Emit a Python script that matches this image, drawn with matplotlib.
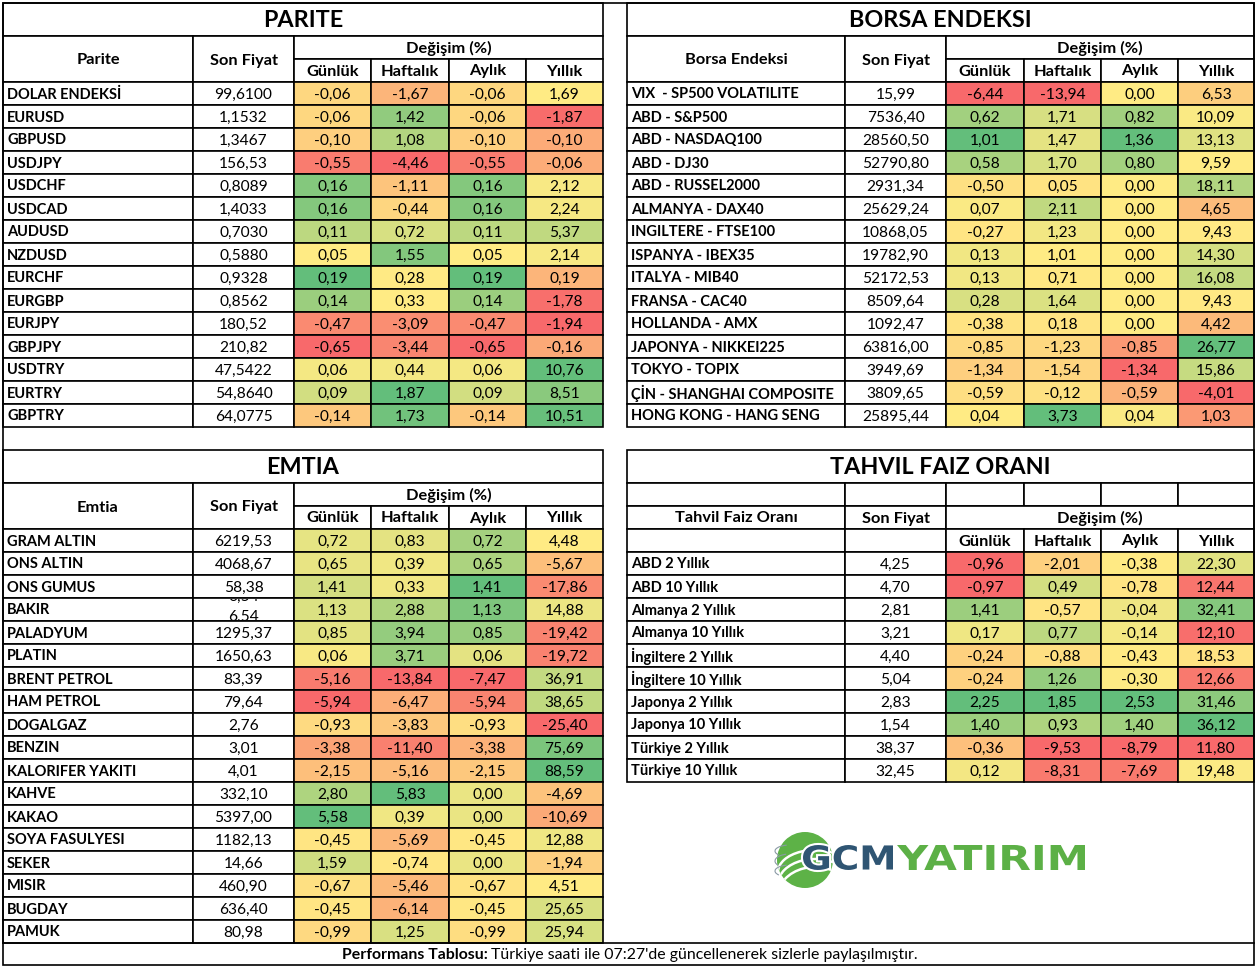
import numpy as np
import matplotlib
matplotlib.use("Agg")
import matplotlib.pyplot as plt
from matplotlib.patches import Rectangle, Circle, PathPatch, Arc
from matplotlib.textpath import TextPath
from matplotlib.font_manager import FontProperties
from matplotlib.transforms import Affine2D, Bbox, TransformedBbox
import matplotlib.patheffects as pe

plt.rcParams['font.family'] = ['Lato', 'DejaVu Sans']

# ---------------- data ----------------
period_labels = ["Günlük", "Haftalık", "Aylık", "Yıllık"]

parite_names = ["DOLAR ENDEKSİ", "EURUSD", "GBPUSD", "USDJPY", "USDCHF", "USDCAD", "AUDUSD",
                "NZDUSD", "EURCHF", "EURGBP", "EURJPY", "GBPJPY", "USDTRY", "EURTRY", "GBPTRY"]
parite_price = ["99,6100", "1,1532", "1,3467", "156,53", "0,8089", "1,4033", "0,7030", "0,5880",
                "0,9328", "0,8562", "180,52", "210,82", "47,5422", "54,8640", "64,0775"]
parite_gun = [-0.06, -0.06, -0.10, -0.55, 0.16, 0.16, 0.11, 0.05, 0.19, 0.14, -0.47, -0.65, 0.06, 0.09, -0.14]
parite_haf = [-1.67, 1.42, 1.08, -4.46, -1.11, -0.44, 0.72, 1.55, 0.28, 0.33, -3.09, -3.44, 0.44, 1.87, 1.73]
parite_ay = [-0.06, -0.06, -0.10, -0.55, 0.16, 0.16, 0.11, 0.05, 0.19, 0.14, -0.47, -0.65, 0.06, 0.09, -0.14]
parite_yil = [1.69, -1.87, -0.10, -0.06, 2.12, 2.24, 5.37, 2.14, 0.19, -1.78, -1.94, -0.16, 10.76, 8.51, 10.51]

borsa_names = ["VIX  - SP500 VOLATILITE", "ABD - S&P500", "ABD - NASDAQ100", "ABD - DJ30",
               "ABD - RUSSEL2000", "ALMANYA - DAX40", "INGILTERE - FTSE100", "ISPANYA - IBEX35",
               "ITALYA - MIB40", "FRANSA - CAC40", "HOLLANDA - AMX", "JAPONYA - NIKKEI225",
               "TOKYO - TOPIX", "ÇİN - SHANGHAI COMPOSITE", "HONG KONG - HANG SENG"]
borsa_price = ["15,99", "7536,40", "28560,50", "52790,80", "2931,34", "25629,24", "10868,05", "19782,90",
               "52172,53", "8509,64", "1092,47", "63816,00", "3949,69", "3809,65", "25895,44"]
borsa_gun = [-6.44, 0.62, 1.01, 0.58, -0.50, 0.07, -0.27, 0.13, 0.13, 0.28, -0.38, -0.85, -1.34, -0.59, 0.04]
borsa_haf = [-13.94, 1.71, 1.47, 1.70, 0.05, 2.11, 1.23, 1.01, 0.71, 1.64, 0.18, -1.23, -1.54, -0.12, 3.73]
borsa_ay = [0.00, 0.82, 1.36, 0.80, 0.00, 0.00, 0.00, 0.00, 0.00, 0.00, 0.00, -0.85, -1.34, -0.59, 0.04]
borsa_yil = [6.53, 10.09, 13.13, 9.59, 18.11, 4.65, 9.43, 14.30, 16.08, 9.43, 4.42, 26.77, 15.86, -4.01, 1.03]

emtia_names = ["GRAM ALTIN", "ONS ALTIN", "ONS GUMUS", "BAKIR", "PALADYUM", "PLATIN", "BRENT PETROL",
               "HAM PETROL", "DOGALGAZ", "BENZIN", "KALORIFER YAKITI", "KAHVE", "KAKAO",
               "SOYA FASULYESI", "SEKER", "MISIR", "BUGDAY", "PAMUK"]
emtia_price = ["6219,53", "4068,67", "58,38", "6,54", "1295,37", "1650,63", "83,39", "79,64", "2,76",
               "3,01", "4,01", "332,10", "5397,00", "1182,13", "14,66", "460,90", "636,40", "80,98"]
emtia_gun = [0.72, 0.65, 1.41, 1.13, 0.85, 0.06, -5.16, -5.94, -0.93, -3.38, -2.15, 2.80, 5.58,
             -0.45, 1.59, -0.67, -0.45, -0.99]
emtia_haf = [0.83, 0.39, 0.33, 2.88, 3.94, 3.71, -13.84, -6.47, -3.83, -11.40, -5.16, 5.83, 0.39,
             -5.69, -0.74, -5.46, -6.14, 1.25]
emtia_ay = [0.72, 0.65, 1.41, 1.13, 0.85, 0.06, -7.47, -5.94, -0.93, -3.38, -2.15, 0.00, 0.00,
            -0.45, 0.00, -0.67, -0.45, -0.99]
emtia_yil = [4.48, -5.67, -17.86, 14.88, -19.42, -19.72, 36.91, 38.65, -25.40, 75.69, 88.59, -4.69,
             -10.69, 12.88, -1.94, 4.51, 25.65, 25.94]

tahvil_names = ["ABD 2 Yıllık", "ABD 10 Yıllık", "Almanya 2 Yıllık", "Almanya 10 Yıllık",
                "İngiltere 2 Yıllık", "İngiltere 10 Yıllık", "Japonya 2 Yıllık", "Japonya 10 Yıllık",
                "Türkiye 2 Yıllık", "Türkiye 10 Yıllık"]
tahvil_price = ["4,25", "4,70", "2,81", "3,21", "4,40", "5,04", "2,83", "1,54", "38,37", "32,45"]
tahvil_gun = [-0.96, -0.97, 1.41, 0.17, -0.24, -0.24, 2.25, 1.40, -0.36, 0.12]
tahvil_haf = [-2.01, 0.49, -0.57, 0.77, -0.88, 1.26, 1.85, 0.93, -9.53, -8.31]
tahvil_ay = [-0.38, -0.78, -0.04, -0.14, -0.43, -0.30, 2.53, 1.40, -8.79, -7.69]
tahvil_yil = [22.30, 12.44, 32.41, 12.10, 18.53, 12.66, 31.46, 36.12, 11.80, 19.48]

# ---------------- layout ----------------
W, H = 1257, 966
LEFT_COLS = [3, 193, 294, 371, 449, 526, 603]
RIGHT_COLS = [627, 845, 946, 1024, 1101, 1178, 1254]
RH = 23
NAME_FS = 10.5   # row labels
NUM_FS = 11.2    # numbers
HEAD_FS = 11.8   # column headers
TITLE_FS = 16.8
FOOT_FS = 11.4
LW = 1.2

RED = np.array([248, 105, 107]) / 255
YEL = np.array([255, 235, 132]) / 255
GRN = np.array([99, 190, 123]) / 255


def scale_colors(vals):
    # excel style 3 colour scale: min red, 50th percentile yellow, max green
    v = np.asarray(vals, float)
    lo, mid, hi = v.min(), np.percentile(v, 50), v.max()
    out = []
    for x in v:
        if x <= mid:
            t = 0.0 if mid == lo else (x - lo) / (mid - lo)
            out.append(RED + (YEL - RED) * t)
        else:
            t = (x - mid) / (hi - mid)
            out.append(YEL + (GRN - YEL) * t)
    return out


def fmt(v):
    return f"{v:.2f}".replace(".", ",")


fig = plt.figure(figsize=(W / 100, H / 100), dpi=100)
ax = fig.add_axes([0, 0, 1, 1])
ax.set_xlim(0, W)
ax.set_ylim(H, 0)
ax.axis('off')


def cell(x0, x1, y0, y1, fc='white', text=None, ha='center', bold=False, size=NUM_FS):
    ax.add_patch(Rectangle((x0, y0), x1 - x0, y1 - y0, facecolor=fc, edgecolor='black', lw=LW))
    if text:
        tx = (x0 + x1) / 2 if ha == 'center' else x0 + 4
        ty = int((y0 + y1) / 2) + 1.5   # snap so every row sits the same way on the pixel grid
        ax.text(tx, ty, text, ha=ha, va='center', fontsize=size,
                fontweight='bold' if bold else 'normal')


def data_rows(cols, y0, names, prices, series):
    colours = [scale_colors(s) for s in series]
    for i, name in enumerate(names):
        ya, yb = y0 + i * RH, y0 + (i + 1) * RH
        cell(cols[0], cols[1], ya, yb, text=name, ha='left', bold=True, size=NAME_FS)
        cell(cols[1], cols[2], ya, yb, text=prices[i])
        for j, s in enumerate(series):
            cell(cols[j + 2], cols[j + 3], ya, yb, fc=colours[j][i], text=fmt(s[i]))


def std_table(cols, top, title, head, names, prices, series):
    cell(cols[0], cols[6], top, top + 33, text=title, bold=True, size=TITLE_FS)
    h0 = top + 33
    cell(cols[0], cols[1], h0, h0 + 2 * RH, text=head, bold=True, size=HEAD_FS)
    cell(cols[1], cols[2], h0, h0 + 2 * RH, text="Son Fiyat", bold=True, size=HEAD_FS)
    cell(cols[2], cols[6], h0, h0 + RH, text="Değişim (%)", bold=True, size=HEAD_FS)
    for j, lab in enumerate(period_labels):
        cell(cols[j + 2], cols[j + 3], h0 + RH, h0 + 2 * RH, text=lab, bold=True, size=HEAD_FS)
    data_rows(cols, h0 + 2 * RH, names, prices, series)


std_table(LEFT_COLS, 3, "PARITE", "Parite", parite_names, parite_price,
          [parite_gun, parite_haf, parite_ay, parite_yil])
std_table(RIGHT_COLS, 3, "BORSA ENDEKSI", "Borsa Endeksi", borsa_names, borsa_price,
          [borsa_gun, borsa_haf, borsa_ay, borsa_yil])
std_table(LEFT_COLS, 450, "EMTIA", "Emtia", emtia_names, emtia_price,
          [emtia_gun, emtia_haf, emtia_ay, emtia_yil])

# tahvil table has an extra blank row and a split header
c = RIGHT_COLS
top = 450
cell(c[0], c[6], top, top + 33, text="TAHVIL FAIZ ORANI", bold=True, size=TITLE_FS)
y = top + 33
for j in range(6):
    cell(c[j], c[j + 1], y, y + RH)
y += RH
cell(c[0], c[1], y, y + RH, text="Tahvil Faiz Oranı", bold=True, size=HEAD_FS)
cell(c[1], c[2], y, y + RH, text="Son Fiyat", bold=True, size=HEAD_FS)
cell(c[2], c[6], y, y + RH, text="Değişim (%)", bold=True, size=HEAD_FS)
y += RH
cell(c[0], c[1], y, y + RH)
cell(c[1], c[2], y, y + RH)
for j, lab in enumerate(period_labels):
    cell(c[j + 2], c[j + 3], y, y + RH, text=lab, bold=True, size=HEAD_FS)
y += RH
data_rows(c, y, tahvil_names, tahvil_price, [tahvil_gun, tahvil_haf, tahvil_ay, tahvil_yil])

# the overflowing "6,54" of BAKIR: drawn twice, shifted, and cut by the cell
bak = emtia_names.index("BAKIR")
by0 = 450 + 33 + 2 * RH + bak * RH
ax.add_patch(Rectangle((LEFT_COLS[1] + 1, by0 + 1), LEFT_COLS[2] - LEFT_COLS[1] - 2, RH - 2,
                       facecolor='white', edgecolor='none', zorder=3))
clip_box = TransformedBbox(Bbox([[LEFT_COLS[1], by0 + 1], [LEFT_COLS[2], by0 + RH - 1]]), ax.transData)
for dy in (18.5, -1.0):
    t = ax.text((LEFT_COLS[1] + LEFT_COLS[2]) / 2, by0 + dy, emtia_price[bak], ha='center',
                va='center', fontsize=NUM_FS, zorder=4, clip_on=True)
    t.set_clip_box(clip_box)

# outer frame and footer
ax.add_patch(Rectangle((3, 3), 1251, 962, facecolor='none', edgecolor='black', lw=LW, zorder=5))
ax.plot([3, 1254], [943, 943], color='black', lw=LW, zorder=5)
ax.text(488, 955, "Performans Tablosu:", ha='right', va='center', fontsize=FOOT_FS, fontweight='bold')
ax.text(491, 955, "Türkiye saati ile 07:27'de güncellenerek sizlerle paylaşılmıştır.", ha='left',
        va='center', fontsize=FOOT_FS)


# ---------------- logo ----------------
def fit_text(s, x0, x1, ytop, ybot, color, zorder, stroke=False):
    tp = TextPath((0, 0), s, size=40, prop=FontProperties(family='DejaVu Sans', weight='bold'))
    ext = tp.get_extents()
    tr = Affine2D().translate(-ext.x0, -ext.y0).scale((x1 - x0) / ext.width, -(ybot - ytop) / ext.height)
    tr = tr.translate(x0, ybot)
    patch = PathPatch(tr.transform_path(tp), facecolor=color, edgecolor='none', zorder=zorder)
    if stroke:
        patch.set_path_effects([pe.withStroke(linewidth=3, foreground='white')])
    ax.add_patch(patch)


sphere = Circle((805, 860), 28, facecolor='#5DB247', edgecolor='none', zorder=6)
ax.add_patch(sphere)
for cy, hgt in [(872, 44), (884, 50), (896, 58)]:
    a = Arc((815, cy), 74, hgt, theta1=180, theta2=330, color='white', lw=1.8, zorder=7)
    a.set_clip_path(sphere)
    ax.add_patch(a)
for cy, hgt in [(851, 12), (861, 14), (871, 12)]:
    ax.add_patch(Arc((790, cy), 30, hgt, theta1=160, theta2=240, color='#8a9aa5', lw=0.8, zorder=7))

fit_text("GCM", 803, 893, 845, 870, '#2F5573', 8, stroke=True)
fit_text("YATIRIM", 897, 1085, 845, 870, '#5CB046', 8)

fig.savefig("out.png", dpi=100)
